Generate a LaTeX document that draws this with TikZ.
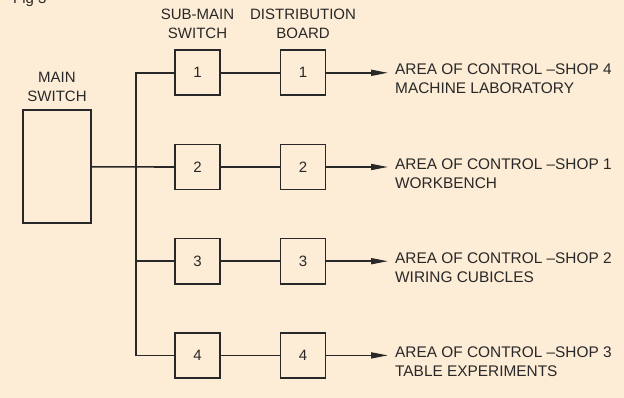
\documentclass[tikz,border=0pt]{standalone}
\usepackage{fontspec}
\setmainfont{Liberation Sans}
\usetikzlibrary{arrows.meta,calc}
\definecolor{bg}{RGB}{253,236,214}
\definecolor{ink}{RGB}{40,40,40}
\begin{document}
\begin{tikzpicture}[x=1pt,y=-1pt,
  every node/.style={text=ink,font=\fontsize{15}{19}\selectfont},
  boxn/.style={draw=ink,line width=1.6pt,minimum width=45pt,minimum height=45pt,inner sep=0pt},
  wire/.style={draw=ink,line width=1.6pt},
  arr/.style={wire,-{Triangle[length=17pt,width=6pt]},shorten >=7pt},
  lab/.style={anchor=north west,align=left,inner sep=0pt,font=\fontsize{15.4}{19}\selectfont}]
\fill[bg] (0,0) rectangle (624,398);
\useasboundingbox (0,0) rectangle (624,398);
\node[anchor=base west,inner sep=0pt] (fig) at (13,3.5) {Fig 3};
% main switch
\node[draw=ink,line width=1.6pt,minimum width=68pt,minimum height=113pt,inner sep=0pt] (ms) at (57,166.8) {};
\node[align=center,inner sep=0pt] (mst) at (57,86.5) {MAIN\\SWITCH};
% headers
\node[align=center,inner sep=0pt] (smh) at (197.5,23.5) {SUB-MAIN\\SWITCH};
\node[align=center,inner sep=0pt] (dbh) at (303,23.5) {DISTRIBUTION\\BOARD};
% rows
\foreach \i/\y/\a/\b in {1/72.8/4/MACHINE LABORATORY,2/167/1/WORKBENCH,3/261.2/2/WIRING CUBICLES,4/355.4/3/TABLE EXPERIMENTS}{
  \node[boxn] (sm\i) at (197.5,\y) {\i};
  \node[boxn] (db\i) at (303,\y) {\i};
  \node[lab] (l\i) at (395,\y-8.8) {AREA OF CONTROL –SHOP \a\\\b};
  \draw[wire] (sm\i) -- (db\i);
  \draw[arr] (db\i.east) -- (db\i.east -| l\i.west);
}
% bus
\coordinate (bt) at (136,72.8);
\coordinate (bb) at (136,355.4);
\draw[wire] (sm1.west) -- (bt) -- (bb) -- (sm4.west);
\draw[wire] (ms.east) -- (sm2.west);
\draw[wire] (bt |- sm3.west) -- (sm3.west);
\end{tikzpicture}
\end{document}
